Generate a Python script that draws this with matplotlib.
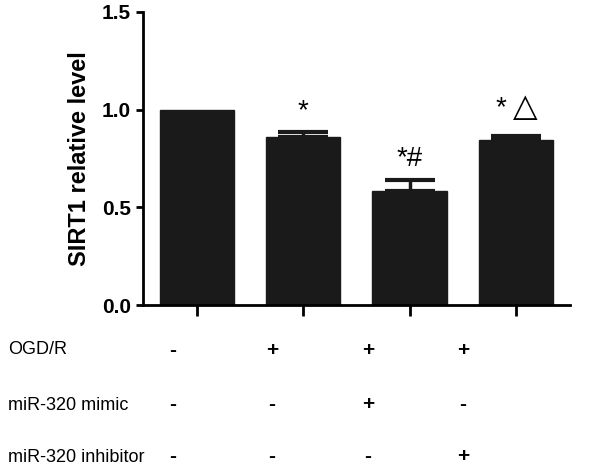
import matplotlib
matplotlib.use("Agg")
import matplotlib.pyplot as plt

plt.rcParams['font.family'] = ['Liberation Sans', 'DejaVu Sans']

values = [1.0, 0.86, 0.585, 0.845]
errors = [0.0, 0.027, 0.055, 0.022]
marks = ["", "*", "*#", ""]
row_names = ["OGD/R", "miR-320 mimic", "miR-320 inhibitor"]
row_signs = [["-", "+", "+", "+"],
             ["-", "-", "+", "-"],
             ["-", "-", "-", "+"]]

fig = plt.figure(figsize=(6, 4.7), dpi=100)
ax = fig.add_axes([0.238, 0.351, 0.712, 0.6235])

x = range(len(values))
ax.bar(x, values, width=0.7, color='#1a1a1a', edgecolor='#1a1a1a', zorder=2)
for xi, v, e in zip(x, values, errors):
    if e > 0:
        ax.errorbar(xi, v, yerr=[[0], [e]], fmt='none', ecolor='#1a1a1a',
                    elinewidth=2.5, capsize=18, capthick=3, zorder=1)

for xi, v, e, m in zip(x, values, errors, marks):
    if m:
        ax.text(xi, v + e + 0.04, m, ha='center', va='bottom', fontsize=20)
# fourth bar: asterisk and open triangle side by side
ax.text(2.86, 0.94, "*", ha='center', va='bottom', fontsize=20)
ax.text(3.09, 0.93, "\u25b3", ha='center', va='bottom', fontsize=23,
        family='DejaVu Sans')

ax.set_xlim(-0.51, 3.51)
ax.set_ylim(0, 1.5)
ax.set_yticks([0.0, 0.5, 1.0, 1.5])
ax.set_yticklabels(["0.0", "0.5", "1.0", "1.5"], fontsize=15, fontweight='bold')
ax.set_xticks(list(x))
ax.set_xticklabels([])
ax.tick_params(axis='y', length=5, width=2)
ax.tick_params(axis='x', length=8, width=2)
ax.set_ylabel("SIRT1 relative level", fontsize=17, fontweight='bold', labelpad=8)
for s in ['top', 'right']:
    ax.spines[s].set_visible(False)
for s in ['left', 'bottom']:
    ax.spines[s].set_linewidth(2)

row_y = [350, 405, 457]
sign_x = [173, 272, 368, 463]
for name, ry, signs in zip(row_names, row_y, row_signs):
    fy = 1 - ry / 470
    fig.text(8 / 600, fy, name, ha='left', va='center', fontsize=13)
    for sx, s in zip(sign_x, signs):
        fig.text(sx / 600, fy, s, ha='center', va='center', fontsize=15,
                 fontweight='bold')

fig.savefig("out.png", dpi=100)
